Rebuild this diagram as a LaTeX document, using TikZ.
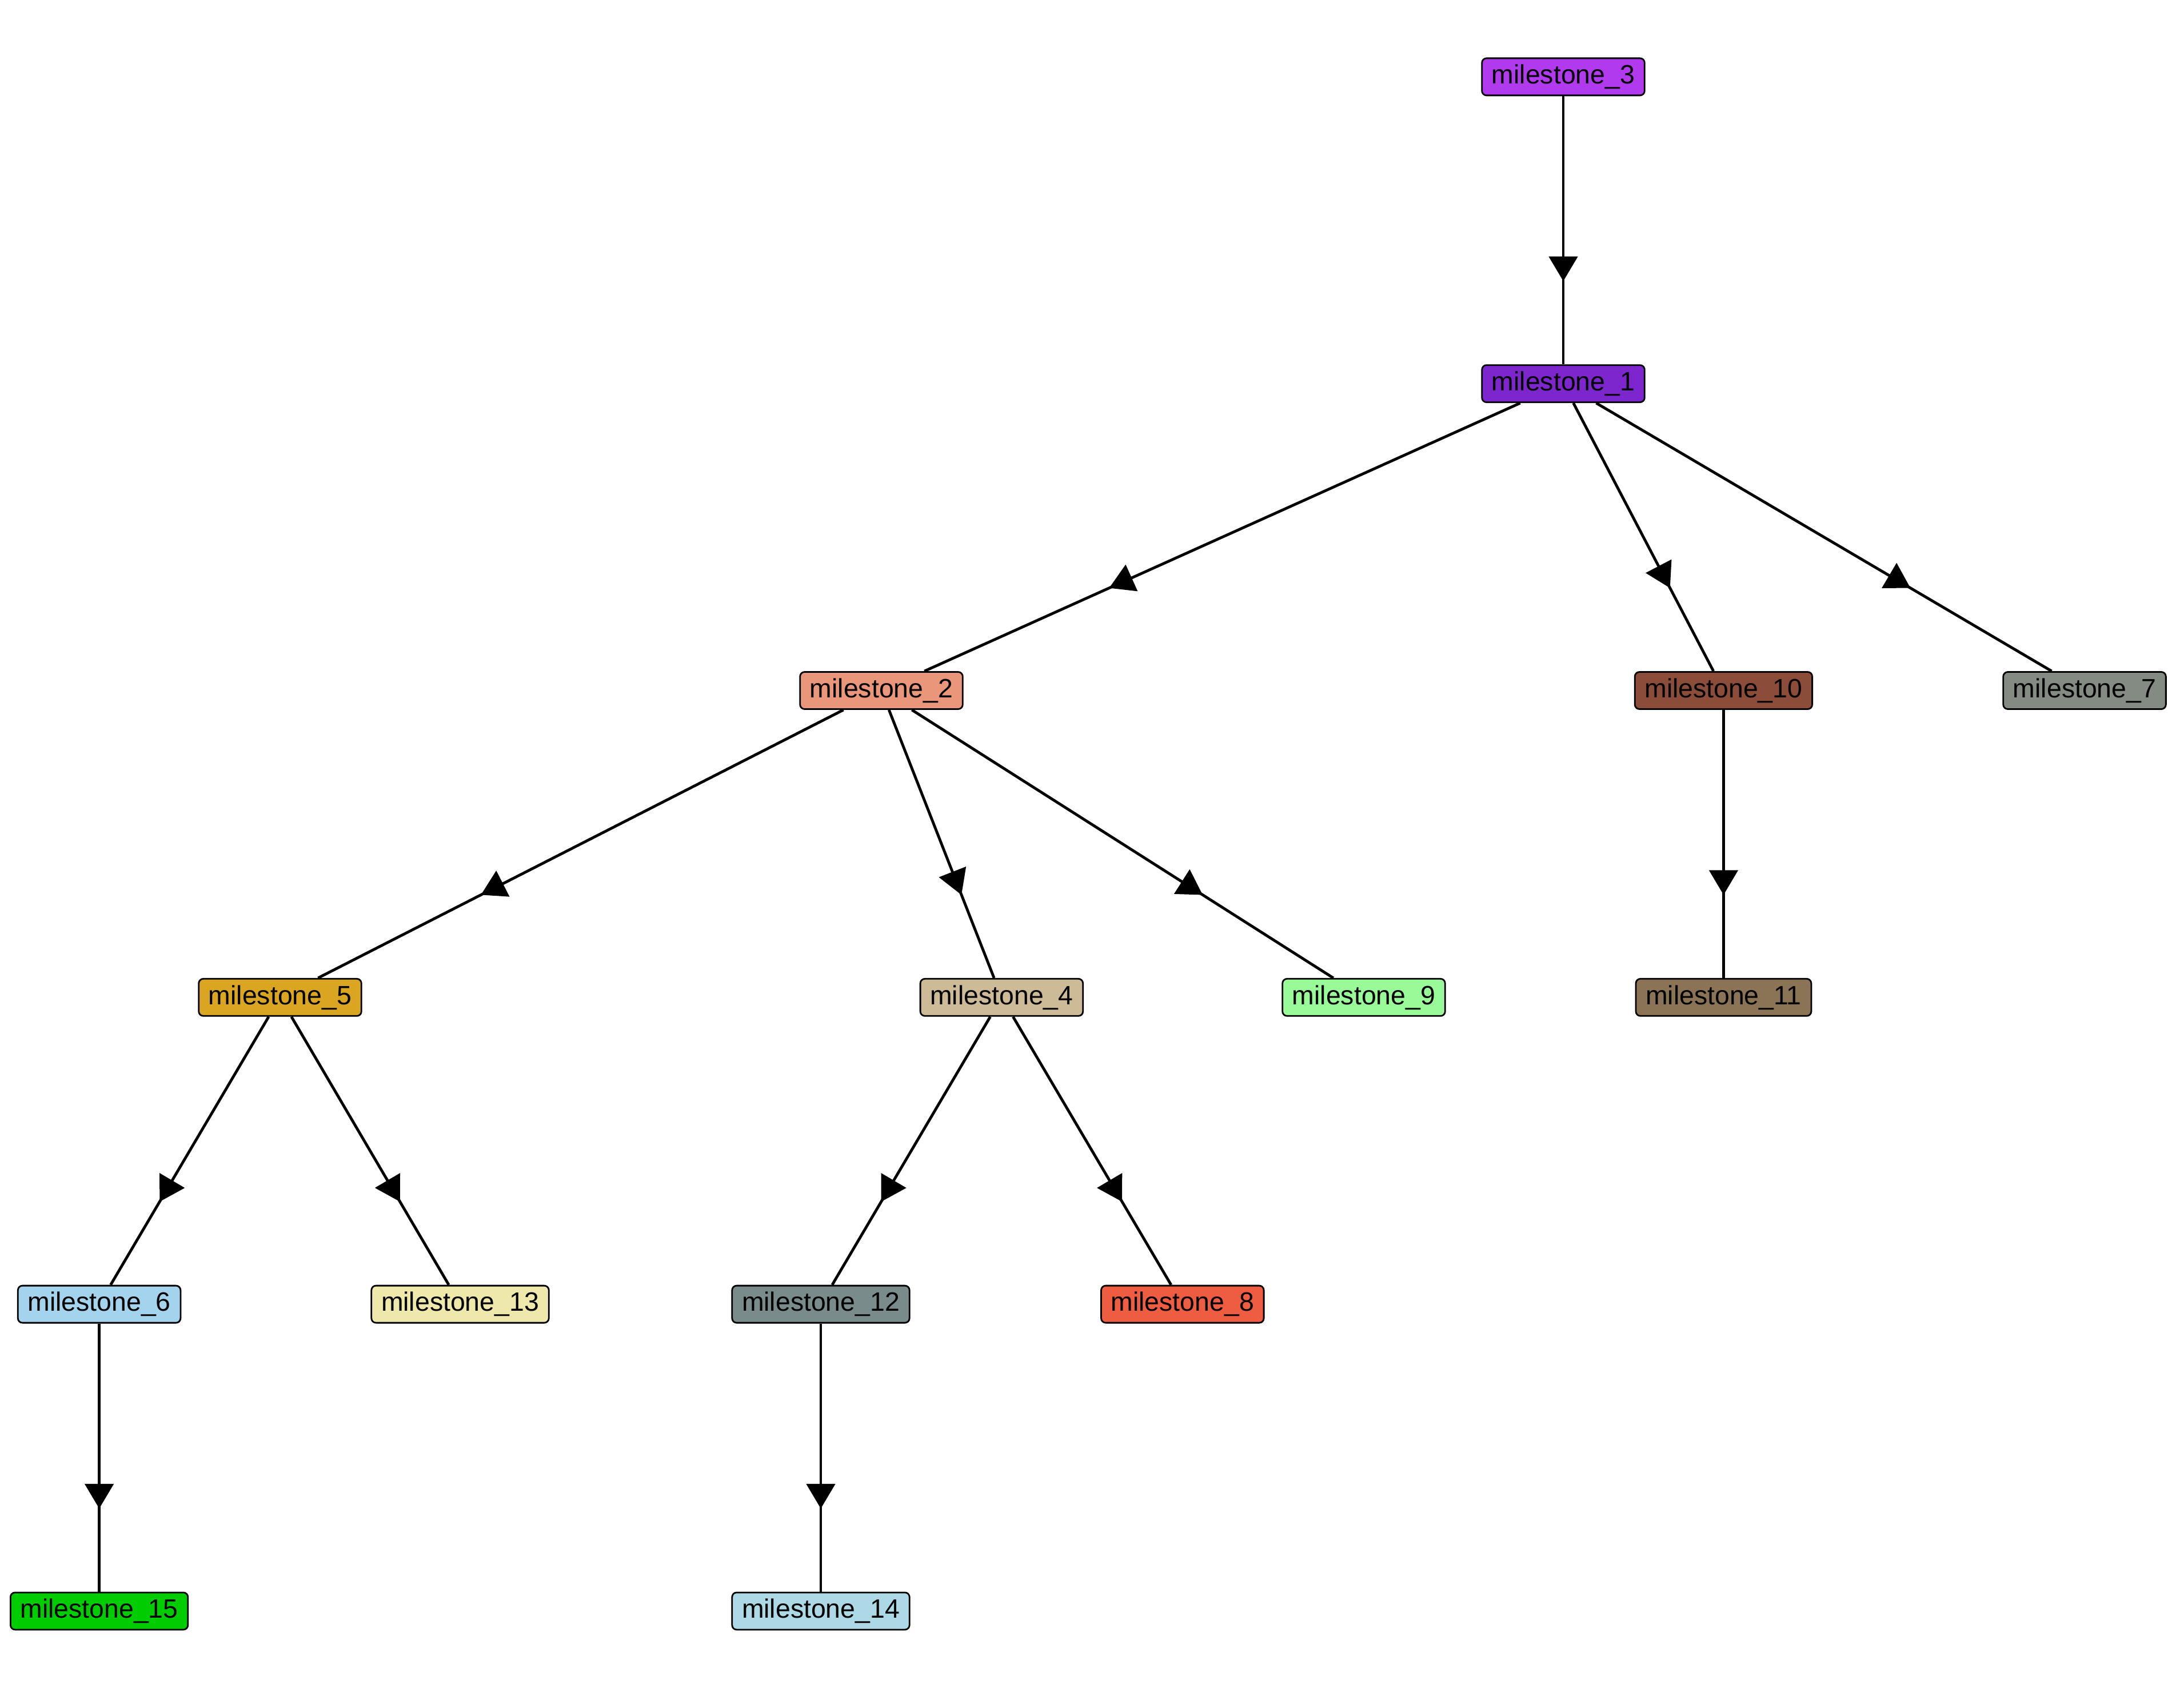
\documentclass[tikz,border=0pt]{standalone}
\usepackage{fontspec}
\setmainfont{Liberation Sans}
\usetikzlibrary{arrows.meta,positioning,decorations.markings}
\definecolor{msThree}{RGB}{178,58,238}
\definecolor{msOne}{RGB}{125,38,205}
\definecolor{msTwo}{RGB}{233,150,122}
\definecolor{msTen}{RGB}{139,76,57}
\definecolor{msSeven}{RGB}{131,139,131}
\definecolor{msFive}{RGB}{218,165,32}
\definecolor{msFour}{RGB}{205,186,150}
\definecolor{msNine}{RGB}{152,251,152}
\definecolor{msEleven}{RGB}{139,115,85}
\definecolor{msSix}{RGB}{164,211,238}
\definecolor{msThirteen}{RGB}{238,232,170}
\definecolor{msTwelve}{RGB}{122,139,139}
\definecolor{msEight}{RGB}{238,92,66}
\definecolor{msFifteen}{RGB}{0,205,0}
\definecolor{msFourteen}{RGB}{173,216,230}
\tikzset{%
  >={Triangle[length=10.8pt,width=12.5pt]},
  % Specifications for style of nodes:
       base/.style = {rectangle, rounded corners=2pt, draw=black,
                      line width=0.7pt, minimum height=16.25pt,
                      inner xsep=4.3pt, inner ysep=0pt, text centered,
                      font=\fontsize{11.6}{13}\selectfont},
  % Specification for edges with the arrow head along the line:
   midarrow/.style = {line width=1.2pt, postaction={decorate},
                      decoration={markings,
                        mark=at position 0.69 with {\arrow{>}}}},
}

\begin{document}
\begin{tikzpicture}[node distance=134.2pt]
  \useasboundingbox (0,0) rectangle (955.25pt,-738.25pt);
  % Specification of nodes (position, etc.)
  \node (ms3) [base, fill=msThree] at (683.75pt,-33.6pt) {milestone\_3};
  \node (ms1) [base, fill=msOne, below of=ms3] {milestone\_1};
  \node (ms2) [base, fill=msTwo, below of=ms1, xshift=-298.25pt] {milestone\_2};
  \node (ms10) [base, fill=msTen, below of=ms1, xshift=70.1pt] {milestone\_10};
  \node (ms7) [base, fill=msSeven, below of=ms1, xshift=228pt] {milestone\_7};
  \node (ms5) [base, fill=msFive, below of=ms2, xshift=-263pt] {milestone\_5};
  \node (ms4) [base, fill=msFour, below of=ms2, xshift=52.6pt] {milestone\_4};
  \node (ms9) [base, fill=msNine, below of=ms2, xshift=211pt] {milestone\_9};
  \node (ms11) [base, fill=msEleven, below of=ms10] {milestone\_11};
  \node (ms6) [base, fill=msSix, below of=ms5, xshift=-79.1pt] {milestone\_6};
  \node (ms13) [base, fill=msThirteen, below of=ms5, xshift=78.75pt] {milestone\_13};
  \node (ms12) [base, fill=msTwelve, below of=ms4, xshift=-79.1pt] {milestone\_12};
  \node (ms8) [base, fill=msEight, below of=ms4, xshift=79.1pt] {milestone\_8};
  \node (ms15) [base, fill=msFifteen, below of=ms6] {milestone\_15};
  \node (ms14) [base, fill=msFourteen, below of=ms12] {milestone\_14};
  % Specification of lines between nodes specified above
  \draw[midarrow] (ms3) -- (ms1);
  \draw[midarrow] (ms1) -- (ms2);
  \draw[midarrow] (ms1) -- (ms10);
  \draw[midarrow] (ms1) -- (ms7);
  \draw[midarrow] (ms2) -- (ms5);
  \draw[midarrow] (ms2) -- (ms4);
  \draw[midarrow] (ms2) -- (ms9);
  \draw[midarrow] (ms10) -- (ms11);
  \draw[midarrow] (ms5) -- (ms6);
  \draw[midarrow] (ms5) -- (ms13);
  \draw[midarrow] (ms4) -- (ms12);
  \draw[midarrow] (ms4) -- (ms8);
  \draw[midarrow] (ms6) -- (ms15);
  \draw[midarrow] (ms12) -- (ms14);
\end{tikzpicture}
\end{document}
